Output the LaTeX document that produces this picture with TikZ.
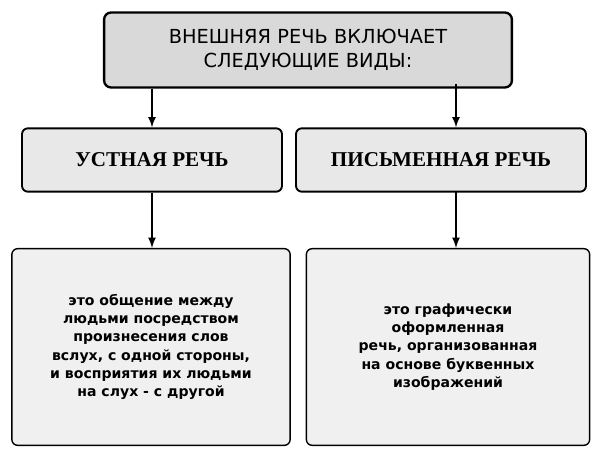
\documentclass[tikz,border=0pt]{standalone}
\usepackage{fontspec}
\setmainfont{DejaVu Sans}
\newfontfamily\serifbold{Liberation Serif}
\usetikzlibrary{positioning}

\begin{document}
\begin{tikzpicture}[x=0.03cm,y=-0.03cm,
    head/.style={draw, line width=2pt, rounded corners=6pt, fill=gray!30, text width=12cm, minimum height=2.25cm, align=center, font=\fontsize{16.5}{20}\selectfont},
    kind/.style={draw, line width=1.6pt, rounded corners=5pt, fill=gray!18, minimum height=1.9cm, font=\serifbold\bfseries\fontsize{18}{22}\selectfont},
    note/.style={draw, line width=1.2pt, rounded corners=5pt, fill=gray!12, minimum height=5.9cm, align=center, font=\bfseries\fontsize{12}{15.5}\selectfont},
    arrow/.style={line width=2pt, -latex}]
\useasboundingbox (0,0) rectangle (604,472);

\node [head] (top) at (308,50) {ВНЕШНЯЯ РЕЧЬ ВКЛЮЧАЕТ\\СЛЕДУЮЩИЕ ВИДЫ:};

\node [kind, minimum width=7.8cm] (oral) at (152,160) {УСТНАЯ РЕЧЬ};
\node [kind, minimum width=8.7cm] (written) at (441,160) {ПИСЬМЕННАЯ РЕЧЬ};

\node [note, minimum width=8.35cm] (oraltext) at (151,347) {это общение между\\людьми посредством\\произнесения слов\\вслух, с одной стороны,\\и восприятия их людьми\\на слух - с другой};
\node [note, minimum width=8.5cm] (writtentext) at (448,347) {это графически\\оформленная\\речь, организованная\\на основе буквенных\\изображений};

\coordinate (rtop) at (456,84);
\coordinate (rmid) at (456,192);

\draw [arrow] (top.south -| oral) -- (oral.north);
\draw [arrow] (rtop) -- (rtop |- written.north);
\draw [arrow] (oral.south) -- (oraltext.north -| oral);
\draw [arrow] (rmid) -- (rmid |- writtentext.north);
\end{tikzpicture}
\end{document}
